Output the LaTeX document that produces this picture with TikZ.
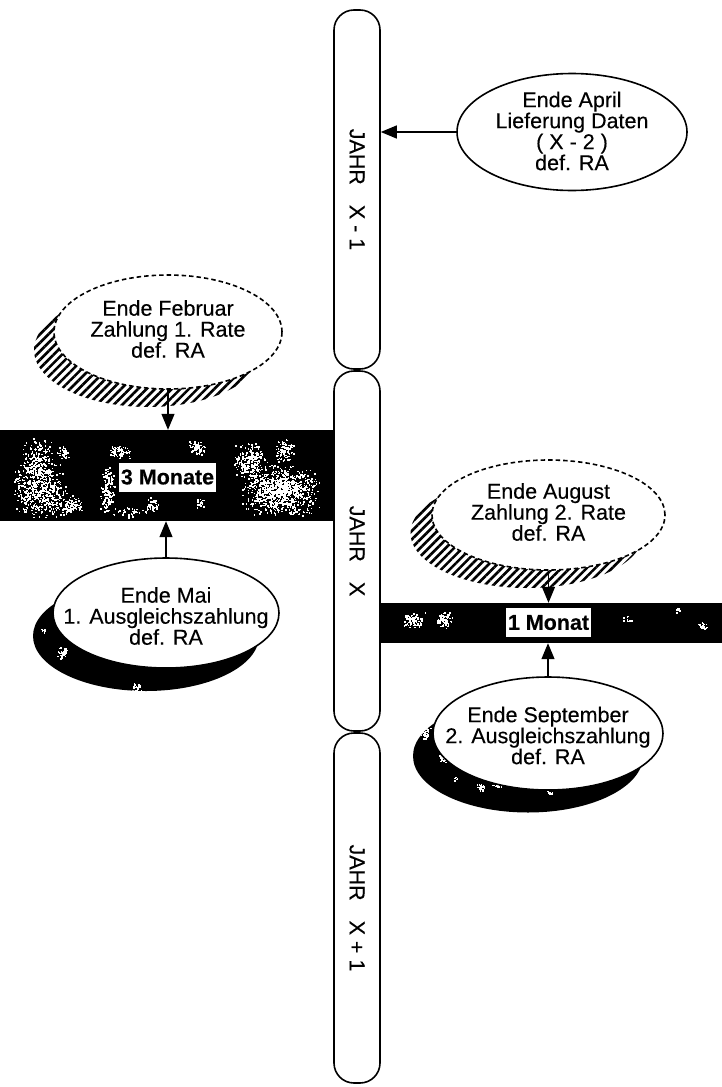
\documentclass[tikz,border=0pt]{standalone}
\usepackage{fontspec}
\usepackage{graphicx}
\setmainfont{Liberation Sans}[FakeBold=0.3]
\usetikzlibrary{shapes.geometric,arrows.meta,patterns.meta,calc}
\newcommand\myspecks[5]{%
  \foreach \k in {1,...,#5}{\fill[white] ({#1+#3*rand*sqrt(rnd)},{#2+#4*rand*sqrt(rnd)}) rectangle +(1.5,1.5);}}
\begin{document}
\begin{tikzpicture}[x=1pt,y=-1pt,
  bar/.style={draw, line width=1.6pt, rounded corners=20pt, minimum width=46pt, inner sep=0pt,
    font=\fontsize{21.5pt}{21pt}\selectfont},
  ell/.style={ellipse, draw, line width=1.6pt, fill=white, inner sep=0pt},
  dashedell/.style={ell, dash pattern=on 4.5pt off 3pt},
  etext/.style={inner sep=0pt, align=center, font=\fontsize{21.5pt}{21pt}\selectfont},
  band/.style={fill=black, inner sep=0pt, draw=none},
  tag/.style={fill=white, inner xsep=2pt, inner ysep=0pt, minimum height=29pt,
    font=\bfseries\fontsize{21.5pt}{21pt}\selectfont},
  arr/.style={line width=1.3pt, -{Triangle[length=16pt,width=13pt]}},
  hatch/.style={pattern={Lines[angle=45,distance=6pt,line width=2.6pt]}, pattern color=black},
]
\pgfmathsetseed{42}
\useasboundingbox (0,0) rectangle (722,1087);

% dark bands
\node[band, minimum width=334pt, minimum height=91pt] (band1) at (167,475.5) {};
\node[band, minimum width=342pt, minimum height=40pt] (band2) at (551,623) {};
\begin{scope}
  \clip (0,430) rectangle (334,521);
  \myspecks{40}{490}{28}{28}{500}
  \myspecks{38}{460}{18}{22}{200}
  \myspecks{63}{452}{7}{7}{40}
  \myspecks{70}{505}{14}{10}{90}
  \myspecks{107}{490}{8}{25}{150}
  \myspecks{120}{452}{12}{7}{70}
  \myspecks{153}{505}{8}{8}{50}
  \myspecks{197}{447}{9}{8}{60}
  \myspecks{200}{503}{5}{5}{20}
  \myspecks{280}{490}{40}{26}{900}
  \myspecks{250}{460}{18}{18}{220}
  \myspecks{285}{450}{10}{12}{100}
  \myspecks{130}{512}{20}{6}{35}
\end{scope}
\begin{scope}
  \clip (380,603) rectangle (722,643);
  \myspecks{413}{620}{12}{8}{90}
  \myspecks{445}{620}{10}{8}{70}
  \myspecks{627}{620}{5}{5}{15}
  \myspecks{677}{610}{4}{4}{8}
  \myspecks{702}{626}{6}{6}{20}
\end{scope}

% year bars
\node[bar, minimum height=359pt] (b1) at (357,189.5) {\rotatebox{-90}{JAHR\hspace{14pt} X - 1}};
\node[bar, minimum height=360pt] (b2) at (357,551) {\rotatebox{-90}{JAHR\hspace{14pt} X}};
\node[bar, minimum height=350pt] (b3) at (357,908) {\rotatebox{-90}{JAHR\hspace{14pt} X + 1}};

% shadows
\fill[hatch] (148,350) ellipse [x radius=114pt, y radius=57pt];
\fill[hatch] (527,533) ellipse [x radius=116.5pt, y radius=55pt];
\fill[black] (146,636) ellipse [x radius=113pt, y radius=55pt];
\fill[black] (528,756) ellipse [x radius=115pt, y radius=56.5pt];
\begin{scope}
  \clip (146,636) ellipse [x radius=113pt, y radius=55pt];
  \myspecks{62}{653}{6}{8}{35}
  \myspecks{43}{630}{3}{3}{8}
  \myspecks{137}{687}{6}{5}{25}
\end{scope}
\begin{scope}
  \clip (528,756) ellipse [x radius=115pt, y radius=56.5pt];
  \myspecks{425}{732}{6}{8}{40}
  \myspecks{442}{757}{6}{6}{30}
  \myspecks{455}{778}{3}{3}{8}
  \myspecks{480}{787}{6}{4}{25}
  \myspecks{497}{785}{5}{4}{18}
  \myspecks{523}{782}{5}{4}{18}
  \myspecks{550}{792}{4}{3}{10}
\end{scope}

% ellipses
\node[ell, minimum width=230pt, minimum height=117pt] (e1) at (572,132) {};
\node[dashedell, minimum width=228pt, minimum height=114pt] (e2) at (168,332) {};
\node[ell, minimum width=226pt, minimum height=110pt] (e3) at (166,613) {};
\node[dashedell, minimum width=233pt, minimum height=110pt] (e4) at (548.5,515) {};
\node[ell, minimum width=230pt, minimum height=113pt] (e5) at (548,733.5) {};
\node[etext] (e1t) at ($(e1)+(0,-1)$) {Ende April\\Lieferung Daten\\( X - 2 )\\def. RA};
\node[etext] (e2t) at ($(e2)+(0,-3)$) {Ende Februar\\Zahlung 1. Rate\\def. RA};
\node[etext] (e3t) at ($(e3)+(0,3)$) {Ende Mai\\1. Ausgleichszahlung\\def. RA};
\node[etext] (e4t) at ($(e4)+(0,-3)$) {Ende August\\Zahlung 2. Rate\\def. RA};
\node[etext] (e5t) at ($(e5)+(0,2)$) {Ende September\\2. Ausgleichszahlung\\def. RA};

% labels on bands
\node[tag] (t1) at (167.5,477) {3 Monate};
\node[tag] (t2) at (548.5,622.5) {1 Monat};

% arrows
\draw[arr] (e1.west) -- (e1.west -| b1.east);
\draw[arr] (e2.south) -- (e2.south |- band1.north);
\draw[arr] (e3.north) -- (e3.north |- band1.south);
\draw[arr] (e4.south) -- (e4.south |- band2.north);
\draw[arr] (e5.north) -- (e5.north |- band2.south);
\end{tikzpicture}
\end{document}
